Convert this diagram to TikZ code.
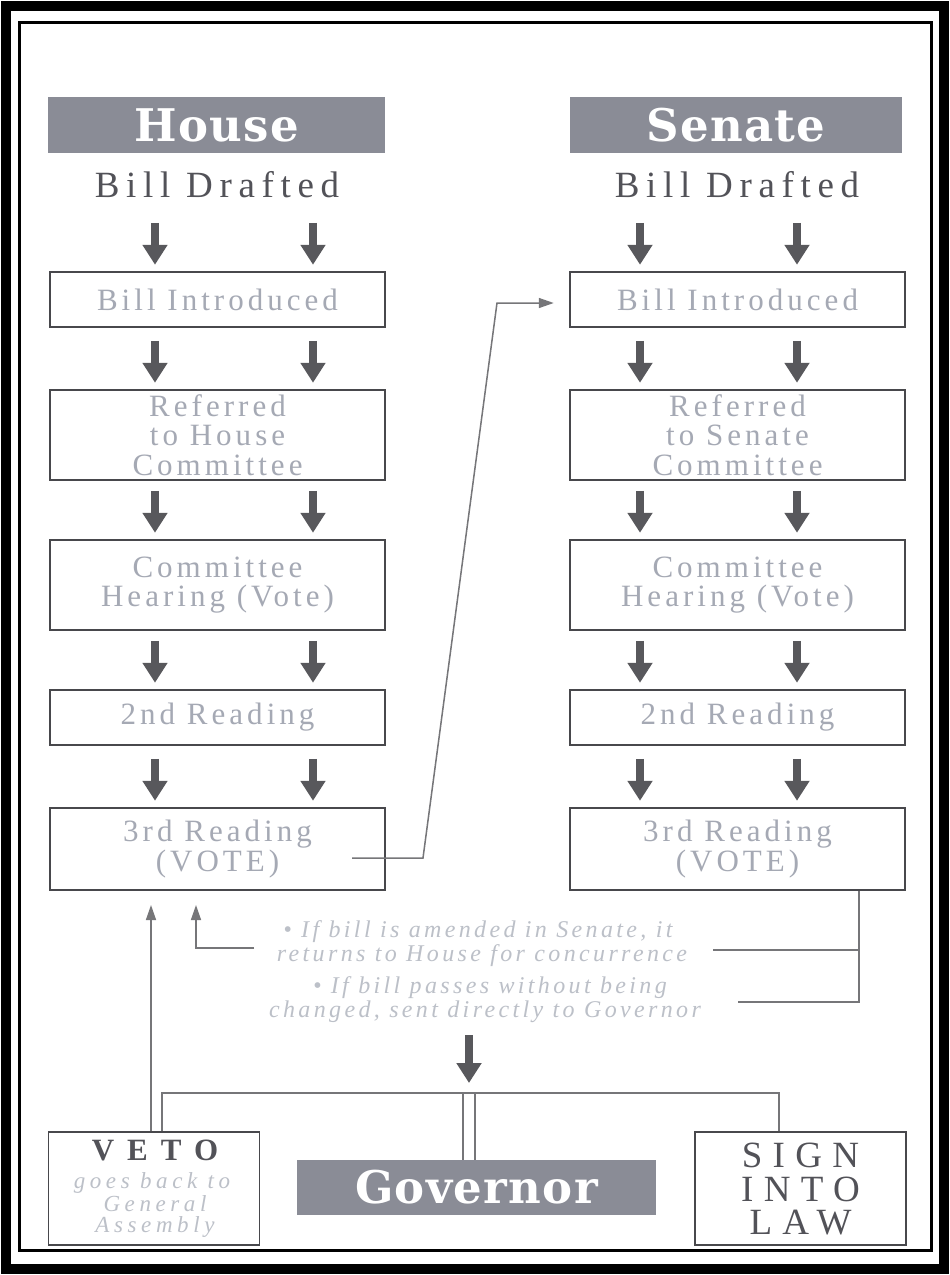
\documentclass[tikz,border=0pt]{standalone}
\usepackage{fontspec}
\setmainfont{Liberation Serif}
\newfontfamily\wideserif[LetterSpace=13]{Liberation Serif}
\newfontfamily\draftserif[LetterSpace=18]{Liberation Serif}
\newfontfamily\capserif[LetterSpace=28]{Liberation Serif}
\newfontfamily\vetoserif[LetterSpace=42]{Liberation Serif}
\newfontfamily\itserif[LetterSpace=14]{Liberation Serif}
\newfontfamily\itwide[LetterSpace=20]{Liberation Serif}
\newfontfamily\hdrserif[LetterSpace=3]{DejaVu Serif}
\usetikzlibrary{arrows.meta,calc}
\definecolor{hdr}{RGB}{138,140,150}
\definecolor{frm}{RGB}{72,72,76}
\definecolor{faint}{RGB}{165,169,180}
\definecolor{vfaint}{RGB}{188,192,200}
\definecolor{arr}{RGB}{88,88,92}
\definecolor{dk}{RGB}{82,82,88}
\tikzset{
  hdrbox/.style={fill=hdr, text=white, inner sep=0pt, minimum height=56pt,
    font=\hdrserif\bfseries\fontsize{45}{45}\selectfont},
  drafted/.style={text=dk, inner sep=0pt, font=\draftserif\fontsize{37}{37}\selectfont},
  stepbox/.style={draw=frm, line width=2.5pt, text=faint, align=center, inner sep=0pt,
    minimum width=335pt, font=\wideserif\fontsize{31}{29.5}\selectfont},
  endbox/.style={draw=frm, line width=1.6pt, inner sep=0pt, minimum width=211pt, minimum height=113pt},
  bigarr/.style={draw=arr, line width=8pt, -{Triangle[width=24pt,length=20pt]}},
  conn/.style={draw=frm!75, line width=1.5pt},
  smarr/.style={conn, -{Triangle[width=10pt,length=15pt]}},
  bul/.style={text=vfaint, inner sep=0pt, font=\itserif\itshape\fontsize{24}{24}\selectfont},
  capt/.style={text=dk, inner sep=0pt, font=\capserif\fontsize{37}{37}\selectfont},
  vetot/.style={text=dk, inner sep=0pt, font=\vetoserif\bfseries\fontsize{31}{31}\selectfont},
  vetoi/.style={text=vfaint, inner sep=0pt, font=\itwide\itshape\fontsize{23}{23}\selectfont},
}
\begin{document}
\begin{tikzpicture}[x=1pt,y=-1pt]
\useasboundingbox (0,0) rectangle (950,1275);
\fill[white] (0,0) rectangle (950,1275);
\draw[line width=10pt] (6,6) rectangle (944,1269);
\draw[line width=3pt] (19,22) rectangle (931,1250);

% headers
\node[hdrbox, minimum width=337pt] (hh) at (216.5,125) {House};
\node[hdrbox, minimum width=332pt] (sh) at (736,125) {Senate};
\node[drafted] (hd) at (217,185) {Bill Drafted};
\node[drafted] (sd) at (737,185) {Bill Drafted};

% house column
\node[stepbox, minimum height=55pt] (h1) at (217.5,299.5) {Bill Introduced};
\node[stepbox, minimum height=90pt] (h2) at (217.5,435) {Referred\\to House\\Committee};
\node[stepbox, minimum height=90pt] (h3) at (217.5,585) {Committee\\Hearing (Vote)};
\node[stepbox, minimum height=55pt] (h4) at (217.5,717.5) {2nd Reading};
\node[stepbox, minimum height=82pt] (h5) at (217.5,849) {3rd Reading\\(VOTE)};

% senate column
\node[stepbox, minimum height=55pt] (s1) at (737.5,299.5) {Bill Introduced};
\node[stepbox, minimum height=90pt] (s2) at (737.5,435) {Referred\\to Senate\\Committee};
\node[stepbox, minimum height=90pt] (s3) at (737.5,585) {Committee\\Hearing (Vote)};
\node[stepbox, minimum height=55pt] (s4) at (737.5,717.5) {2nd Reading};
\node[stepbox, minimum height=82pt] (s5) at (737.5,849) {3rd Reading\\(VOTE)};

% arrow columns
\coordinate (cA) at (155,0);
\coordinate (cB) at (313,0);
\coordinate (cC) at (640,0);
\coordinate (cD) at (797,0);

\foreach \b in {h1,h2,h3,h4,h5}{
  \draw[bigarr] ($(\b.north -| cA)+(0,-48)$) -- ($(\b.north -| cA)+(0,-6)$);
  \draw[bigarr] ($(\b.north -| cB)+(0,-48)$) -- ($(\b.north -| cB)+(0,-6)$);
}
\foreach \b in {s1,s2,s3,s4,s5}{
  \draw[bigarr] ($(\b.north -| cC)+(0,-48)$) -- ($(\b.north -| cC)+(0,-6)$);
  \draw[bigarr] ($(\b.north -| cD)+(0,-48)$) -- ($(\b.north -| cD)+(0,-6)$);
}

% house 3rd reading to senate
\coordinate (x0) at (352,858);
\coordinate (x1) at (423,858);
\coordinate (x2) at (497,303);
\draw[smarr] (x0) -- (x1) -- (x2) -- ([xshift=-15pt]s1.west |- x2);

% bullet notes
\node[bul] (b1) at (478,932) {\textbullet\ If bill is amended in Senate, it};
\node[bul] (b2) at (482,956) {returns to House for concurrence};
\node[bul] (b3) at (490,988) {\textbullet\ If bill passes without being};
\node[bul] (b4) at (485,1012) {changed, sent directly to Governor};

% senate bracket
\coordinate (r0) at (859,1002);
\draw[conn] (s5.south -| r0) -- (r0) -- (738,1002);
\draw[conn] (859,950) -- (713,950);

% back to house
\coordinate (u2) at (196,905);
\draw[smarr] (254,948) -- (196,948) -- (u2);

% governor
\node[hdrbox, minimum width=359pt, minimum height=55pt] (gov) at (476.5,1187.5) {Governor};
\node[endbox] (veto) at (154,1188.5) {};
\node[endbox] (sign) at (800.5,1188.5) {};
\node[vetot] (vt) at (155,1150) {VETO};
\node[vetoi] (vi1) at (152,1183) {goes back to};
\node[vetoi] (vi2) at (155,1204) {General};
\node[vetoi] (vi3) at (155,1227) {Assembly};
\node[capt] (st1) at (800.5,1155) {SIGN};
\node[capt] (st2) at (800.5,1189) {INTO};
\node[capt] (st3) at (800.5,1223) {LAW};

\coordinate (gA) at (469,1035);
\draw[bigarr] (gA) -- (469,1083);
\coordinate (hl) at (162,1093);
\coordinate (hr) at (779,1093);
\draw[conn] (veto.north -| hl) -- (hl) -- (hr) -- (sign.north -| hr);
\draw[conn] (463,1093) -- (gov.north -| 463,0);
\draw[conn] (475,1093) -- (gov.north -| 475,0);

% veto back up
\coordinate (u1) at (151,905);
\draw[smarr] (veto.north -| u1) -- (u1);
\end{tikzpicture}
\end{document}
